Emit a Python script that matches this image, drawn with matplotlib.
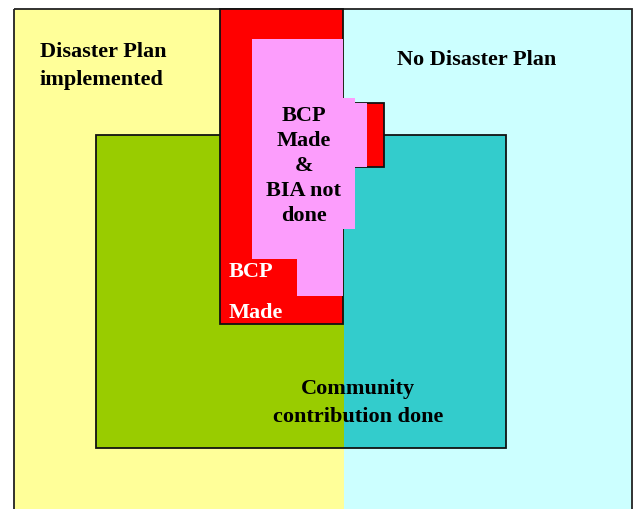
import matplotlib.pyplot as plt
from matplotlib.patches import Rectangle, Polygon

# regions of the diagram, in picture units (x0, y0, x1, y1), y grows downward
frame = [14, 10, 632, 520]
split_x = 344
community = [96, 136, 506, 449]
bcp = [220, 10, 343, 325]
bcp_notch = [355, 104, 384, 168]
bia_outline = [(252, 40), (343, 40), (343, 99), (355, 99), (355, 104), (367, 104),
               (367, 168), (355, 168), (355, 230), (343, 230), (343, 297),
               (297, 297), (297, 260), (252, 260)]

labels = ["Disaster Plan\nimplemented", "No Disaster Plan",
          "BCP\nMade\n&\nBIA not\ndone", "BCP", "Made",
          "Community\ncontribution done"]

plt.rcParams['font.family'] = ['Liberation Serif', 'DejaVu Serif']

fig = plt.figure(figsize=(6.35, 5.1), dpi=100)
ax = fig.add_axes([0, 0, 1, 1])
ax.set_xlim(0, 635)
ax.set_ylim(510, 0)
ax.axis('off')

def box(b, **kw):
    return Rectangle((b[0], b[1]), b[2]-b[0], b[3]-b[1], **kw)

# two halves of the outer frame
ax.add_patch(box([frame[0], frame[1], split_x, frame[3]], facecolor='#ffff99', lw=0))
ax.add_patch(box([split_x, frame[1], frame[2], frame[3]], facecolor='#ccffff', lw=0))
ax.add_patch(box(frame, facecolor='none', edgecolor='#222222', lw=1.3))

# community box, green on the left, teal on the right
ax.add_patch(box([community[0], community[1], split_x, community[3]], facecolor='#99cc00', lw=0))
ax.add_patch(box([split_x, community[1], community[2], community[3]], facecolor='#33cccc', lw=0))
ax.add_patch(box(community, facecolor='none', edgecolor='#111111', lw=1.3))

# BCP made (red)
ax.add_patch(box(bcp_notch, facecolor='red', edgecolor='#111111', lw=1.3))
ax.add_patch(box(bcp, facecolor='red', edgecolor='#111111', lw=1.3))

# BIA not done (pink)
ax.add_patch(Polygon(bia_outline, closed=True, facecolor='#fc9dfc', edgecolor='none', lw=0))

kw = dict(fontsize=16, fontweight='bold', va='center')
ax.text(40, 66, labels[0], ha='left', linespacing=1.5, **kw)
ax.text(477, 60, labels[1], ha='center', **kw)
ax.text(304, 166, labels[2], ha='center', linespacing=1.32, **kw)
ax.text(229, 272, labels[3], ha='left', color='white', **kw)
ax.text(229, 313, labels[4], ha='left', color='white', **kw)
ax.text(358, 403, labels[5], ha='center', linespacing=1.5, **kw)

fig.savefig('out.png', dpi=100)
